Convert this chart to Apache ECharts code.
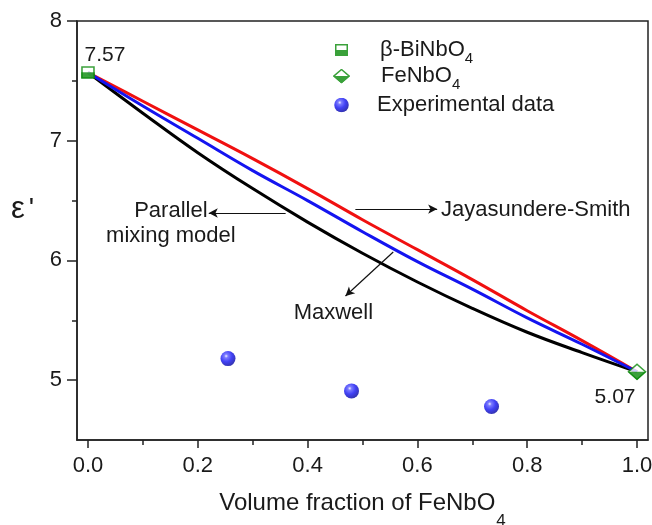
<!DOCTYPE html>
<html>
<head>
<meta charset="utf-8">
<script src="https://cdn.jsdelivr.net/npm/echarts@6/dist/echarts.min.js"></script>
<style>html,body{margin:0;padding:0;background:#fff}#c{width:652px;height:525px}</style>
</head>
<body>
<div id="c"></div>
<script>
// ---- data ----
const fraction = [0, 0.1, 0.2, 0.3, 0.4, 0.5, 0.6, 0.7, 0.8, 0.9, 1.0];
const jayasundereSmith = [7.57, 7.33, 7.09, 6.85, 6.60, 6.34, 6.09, 5.84, 5.58, 5.33, 5.07];
const parallelModel   = [7.57, 7.29, 7.02, 6.75, 6.50, 6.24, 5.99, 5.76, 5.52, 5.30, 5.07];
const maxwellModel    = [7.57, 7.23, 6.90, 6.60, 6.32, 6.06, 5.82, 5.60, 5.40, 5.23, 5.07];
const biNbO4Point = [0, 7.57];
const feNbO4Point = [1.0, 5.07];
const expFraction = [0.255, 0.48, 0.735];
const expValues   = [5.18, 4.91, 4.78];
const xTicks = [0, 0.2, 0.4, 0.6, 0.8, 1.0];
const xMinorTicks = [0.1, 0.3, 0.5, 0.7, 0.9];
const yTicks = [5, 6, 7, 8];
const yMinorTicks = [5.5, 6.5, 7.5];

const GREEN = '#0a8a0a';
const TXT = '#1a1a1a';
const FONT = 'Liberation Sans, Arial, sans-serif';

function pairs(xs, ys){ return xs.map((x,i)=>[x, ys[i]]); }

function svgIcon(svg){ return 'image://data:image/svg+xml;charset=utf-8,' + encodeURIComponent(svg); }
const sqIcon = svgIcon("<svg xmlns='http://www.w3.org/2000/svg' width='26' height='24' viewBox='0 0 26 24'><rect x='1.5' y='1.5' width='23' height='21' fill='white' stroke='"+GREEN+"' stroke-width='3'/><rect x='0' y='12' width='26' height='12' fill='"+GREEN+"'/></svg>");
const diIcon = svgIcon("<svg xmlns='http://www.w3.org/2000/svg' width='34' height='30' viewBox='0 0 34 30'><polygon points='17,2 32,15 17,28 2,15' fill='white' stroke='"+GREEN+"' stroke-width='3'/><polygon points='0,15 34,15 17,30' fill='"+GREEN+"'/></svg>");
const spIcon = svgIcon("<svg xmlns='http://www.w3.org/2000/svg' width='30' height='30' viewBox='0 0 30 30'><defs><radialGradient id='g' cx='0.38' cy='0.33' r='0.7'><stop offset='0' stop-color='#eef0ff'/><stop offset='0.18' stop-color='#5a5aff'/><stop offset='0.55' stop-color='#1212f2'/><stop offset='1' stop-color='#00009a'/></radialGradient></defs><circle cx='15' cy='15' r='14.5' fill='url(#g)'/></svg>");

const sphereColor = {type:'radial', x:0.38, y:0.33, r:0.7, colorStops:[
  {offset:0, color:'#eef0ff'},{offset:0.18, color:'#5a5aff'},{offset:0.55, color:'#1212f2'},{offset:1, color:'#00009a'}]};

// annotations in data coordinates
const arrows = [
  [[0.36, 6.396],[0.22, 6.396]],
  [[0.487, 6.429],[0.636, 6.429]],
  [[0.556, 6.07],[0.469, 5.703]]
];
const textLabels = [
  {coord:[0.031, 7.716], text:'7.57', align:'center', size:21},
  {coord:[0.96, 4.859], text:'5.07', align:'center', size:21},
  {coord:[0.151, 6.312], text:'Parallel\nmixing model', align:'center', size:22},
  {coord:[0.642, 6.421], text:'Jayasundere-Smith', align:'left', size:22},
  {coord:[0.447, 5.561], text:'Maxwell', align:'center', size:22}
];

const legendRich = {
  t1:{fontSize:22, fontFamily:FONT, color:TXT, padding:[0,0,0,27]},
  t2:{fontSize:22, fontFamily:FONT, color:TXT, padding:[0,0,0,26]},
  e:{fontSize:22, fontFamily:FONT, color:TXT, padding:[0,0,0,23]},
  s:{fontSize:15, fontFamily:FONT, color:TXT, padding:[18,0,0,0]}
};
function mkLegend(name, icon, w, h, left, top, fmt){
  return {orient:'vertical', left:left, top:top, padding:0, itemWidth:w, itemHeight:h, selectedMode:false,
    data:[{name:name, icon:icon}], formatter:()=>fmt,
    textStyle:{fontFamily:FONT, color:TXT, fontSize:22, rich:legendRich}};
}

const chart = echarts.init(document.getElementById('c'), null, {renderer:'canvas'});
const axisLine = {show:true, onZero:false, lineStyle:{color:'#222', width:1.5}};
const tickLine = {color:'#222', width:1.5};
const option = {
  animation:false,
  backgroundColor:'#fff',
  grid:{left:77, right:4, top:21, bottom:85, show:true, borderColor:'#222', borderWidth:1.5,
        containLabel:false, outerBoundsMode:'none'},
  legend:[
    mkLegend('β-BiNbO4', sqIcon, 13, 12, 335, 39, '{t1|β-BiNbO}{s|4}'),
    mkLegend('FeNbO4', diIcon, 17, 15, 333, 65, '{t2|FeNbO}{s|4}'),
    mkLegend('Experimental data', spIcon, 15, 15, 334, 94, '{e|Experimental data}')
  ],
  xAxis:[{
    type:'value', min:-0.02, max:1.02, position:'bottom',
    axisLine:axisLine,
    axisTick:{show:true, customValues:xTicks, length:8, inside:false, lineStyle:tickLine},
    axisLabel:{show:true, customValues:xTicks, formatter:v=>v.toFixed(1), fontSize:22, fontFamily:FONT, color:TXT, margin:15},
    splitLine:{show:false},
    name:'{t|Volume fraction of FeNbO}{s|4}', nameLocation:'middle', nameGap:37,
    nameTextStyle:{rich:{
      t:{fontSize:24, fontFamily:FONT, color:TXT},
      s:{fontSize:17, fontFamily:FONT, color:TXT, padding:[36,0,0,1]}
    }}
  },{
    type:'value', min:-0.02, max:1.02, position:'bottom', gridIndex:0,
    axisLine:{show:false, onZero:false},
    axisTick:{show:true, customValues:xMinorTicks, length:5, lineStyle:tickLine},
    axisLabel:{show:false}, splitLine:{show:false}
  },{
    type:'value', min:-0.02, max:1.02, position:'bottom', gridIndex:0,
    axisLine:{show:false, onZero:false},
    axisTick:{show:true, customValues:xTicks, length:8, lineStyle:tickLine},
    axisLabel:{show:false}, splitLine:{show:false}
  }],
  yAxis:[{
    type:'value', min:4.5, max:8, position:'left',
    axisLine:axisLine,
    axisTick:{show:true, customValues:yTicks, length:10, lineStyle:tickLine},
    axisLabel:{show:true, customValues:yTicks, formatter:v=>String(v), fontSize:22, fontFamily:FONT, color:TXT, margin:15},
    splitLine:{show:false}
  },{
    type:'value', min:4.5, max:8, position:'left', gridIndex:0,
    axisLine:{show:false, onZero:false},
    axisTick:{show:true, customValues:yMinorTicks, length:5, lineStyle:tickLine},
    axisLabel:{show:false}, splitLine:{show:false}
  },{
    type:'value', min:4.5, max:8, position:'left', gridIndex:0,
    axisLine:{show:false, onZero:false},
    axisTick:{show:true, customValues:yTicks, length:10, lineStyle:tickLine},
    axisLabel:{show:false}, splitLine:{show:false}
  }],
  graphic:[{type:'text', left:11, top:194, style:{text:"{a|ε}{b|'}", rich:{
    a:{fontSize:31, fontFamily:FONT, fill:TXT, color:TXT},
    b:{fontSize:28, fontFamily:FONT, fill:TXT, color:TXT, padding:[0,0,0,4]}}}}],
  series:[
    {name:'Maxwell', type:'line', data:pairs(fraction, maxwellModel), smooth:0.4, symbol:'none',
      lineStyle:{color:'#000', width:3}, z:2, silent:true,
      markLine:{silent:true, symbol:['none','arrow'], symbolSize:[7,9], animation:false,
        lineStyle:{color:'#111', width:1.2, type:'solid'}, label:{show:false}, emphasis:{disabled:true},
        data:arrows.map(a=>[{coord:a[0]},{coord:a[1]}])},
      markPoint:{silent:true, symbol:'circle', symbolSize:1, itemStyle:{color:'rgba(0,0,0,0)'}, animation:false,
        data:textLabels.map(t=>({coord:t.coord, name:t.text,
          label:{show:true, position:t.align==='left'?'right':'inside', distance:0, formatter:t.text, fontSize:t.size, fontFamily:FONT, color:TXT, align:t.align, lineHeight:25}}))}
    },
    {name:'Jayasundere-Smith', type:'line', data:pairs(fraction, jayasundereSmith), smooth:0.4, symbol:'none',
      lineStyle:{color:'#f01010', width:3}, z:3, silent:true},
    {name:'Parallel', type:'line', data:pairs(fraction, parallelModel), smooth:0.4, symbol:'none',
      lineStyle:{color:'#1414f0', width:3}, z:4, silent:true},
    {name:'β-BiNbO4', type:'scatter', data:[biNbO4Point], symbol:'rect', symbolSize:[12,11],
      itemStyle:{color:'#fff', borderColor:GREEN, borderWidth:1.5}, z:10, silent:true},
    {name:'β-BiNbO4 fill', type:'scatter', data:[biNbO4Point], symbol:'rect', symbolSize:[13.5,6], symbolOffset:[0,2.8],
      itemStyle:{color:GREEN}, z:11, silent:true},
    {name:'FeNbO4', type:'scatter', data:[feNbO4Point], symbol:'diamond', symbolSize:[17,15],
      itemStyle:{color:'#fff', borderColor:GREEN, borderWidth:1.5}, z:10, silent:true},
    {name:'FeNbO4 fill', type:'scatter', data:[feNbO4Point], symbol:'path://M0,0L2,0L1,1Z', symbolSize:[18.5,8.5], symbolOffset:[0,4.2],
      itemStyle:{color:GREEN}, z:11, silent:true},
    {name:'Experimental data', type:'scatter', data:pairs(expFraction, expValues), symbol:'circle', symbolSize:15,
      itemStyle:{color:sphereColor}, z:10, silent:true}
  ]
};
chart.setOption(option);
</script>
</body>
</html>
